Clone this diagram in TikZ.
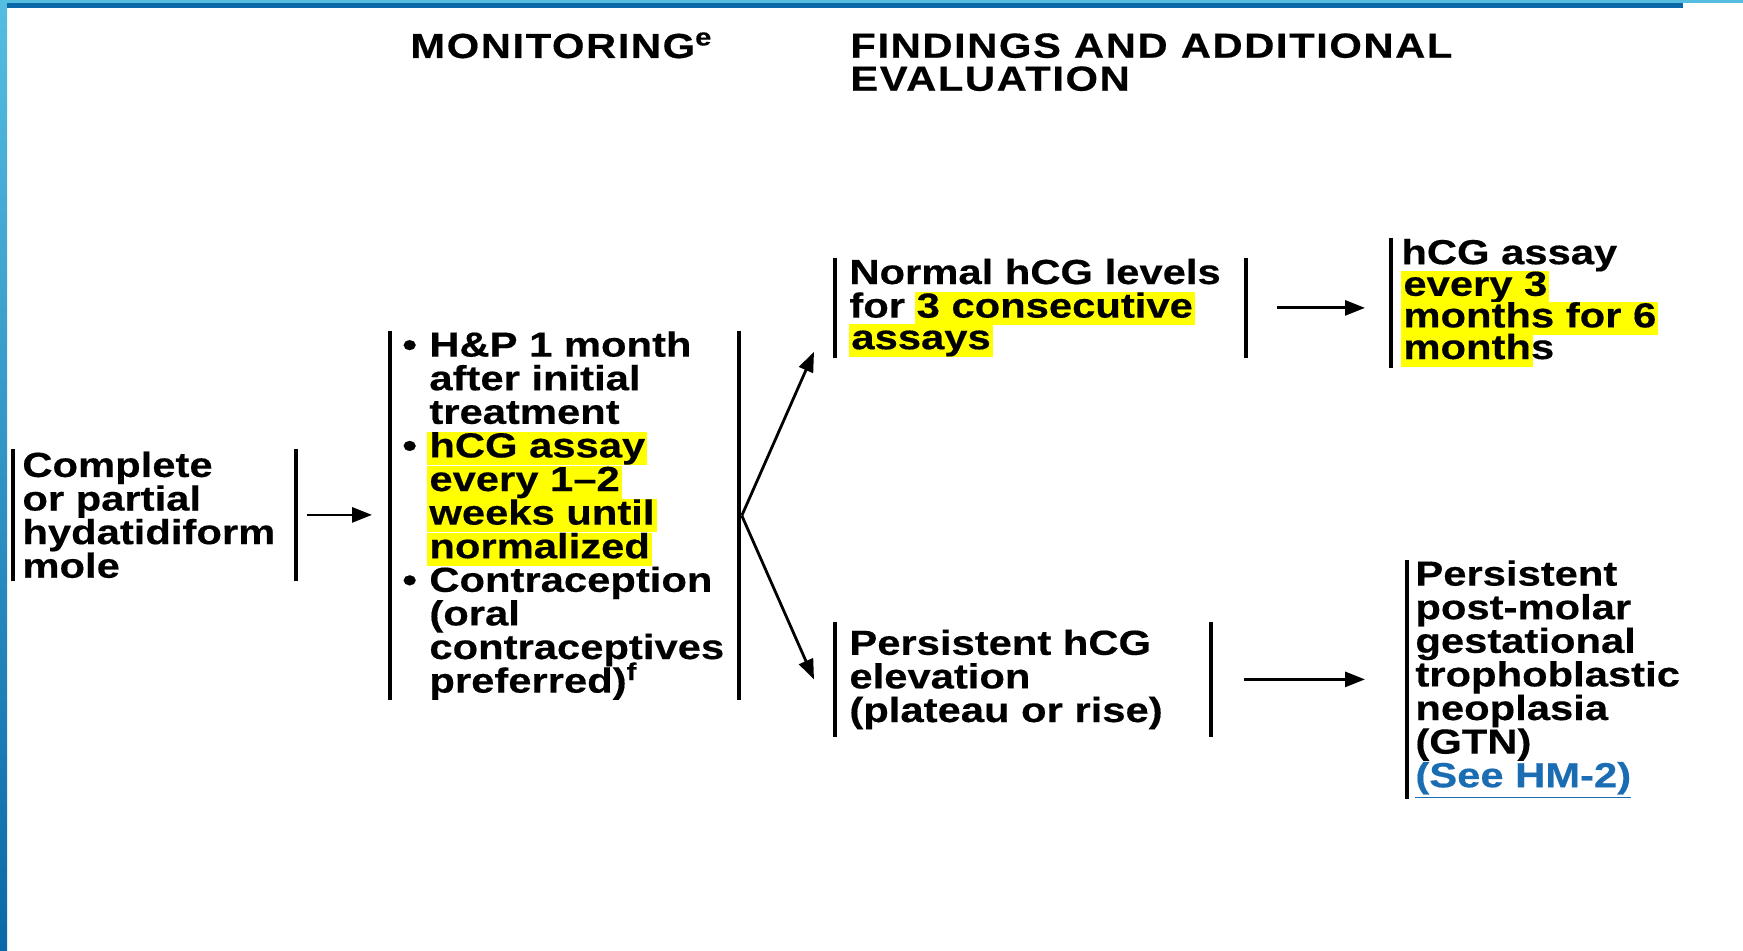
\documentclass[tikz,border=0pt]{standalone}
\usepackage{fontspec}
\setmainfont{Liberation Sans}[FakeStretch=1.2, BoldFeatures={FakeBold=0.4}]
\newfontfamily\headfont{Liberation Sans}[FakeStretch=1.2, LetterSpace=4.5, BoldFeatures={FakeBold=0.4}]
\usetikzlibrary{arrows.meta, positioning, calc}

\definecolor{hlyellow}{HTML}{FFFF00}
\definecolor{linkblue}{HTML}{1A6DB3}
\definecolor{edgelight}{HTML}{55BDE0}
\definecolor{edgedark}{HTML}{0B68A8}

\newcommand{\bodyfont}{\bfseries\fontsize{17.4}{16.8}\selectfont}
\newcommand{\hlt}[1]{\kern-1pt{\setlength{\fboxsep}{0pt}\colorbox{hlyellow}{\rule[-3.9pt]{0pt}{16.5pt}\kern1pt#1\kern1pt}}\kern-1pt}
\newcommand{\bul}{\makebox[13.5pt][l]{\textbullet}}
\newcommand{\ind}{\hspace*{13.5pt}}

\begin{document}
\begin{tikzpicture}[x=0.5pt, y=-0.5pt,
    stage/.style={anchor=north west, inner sep=0pt, align=left, font=\bodyfont},
    bar/.style={line width=1.7pt},
    arr/.style={line width=1.4pt, -{Triangle[length=10pt, width=7.5pt]}},
    head/.style={inner sep=0pt, align=left, font=\headfont\bfseries\fontsize{17.4}{16.5}\selectfont}]
    \useasboundingbox (0,0) rectangle (1743,951);
    % frame
    \fill[white] (0,0) rectangle (1743,951);
    \shade[top color=edgelight, bottom color=edgedark] (0,0) rectangle (7,951);
    \fill[edgelight] (0,0) rectangle (1743,3);
    \fill[edgedark] (7,3) rectangle (1683,8);

    % headings
    \node[head, anchor=base west] (hmon) at (410,58) {MONITORING\textsuperscript{e}};
    \node[head, anchor=north west] (hfind) at (850,33) {FINDINGS AND ADDITIONAL\\EVALUATION};

    % boxes
    \node[stage, text width=136.5pt, minimum height=65.5pt] (mole) at (22,449)
        {Complete\\or partial\\hydatidiform\\mole};
    \node[stage, text width=168pt, minimum height=183pt] (monitor) at (402,331)
        {\bul H\&P 1 month\\\ind after initial\\\ind treatment\\
         \bul\hlt{hCG assay}\\\ind\hlt{every 1--2}\\\ind\hlt{weeks until}\\\ind\hlt{normalized}\\
         \bul Contraception\\\ind (oral\\\ind contraceptives\\\ind preferred)\smash{\textsuperscript{f}}};
    \node[stage, text width=198pt, minimum height=49.5pt] (normal) at (849,258)
        {Normal hCG levels\\for \hlt{3 consecutive}\\\hlt{assays}};
    \node[stage, text width=150pt, minimum height=64.5pt] (assay) at (1401,238)
        {hCG assay\\\hlt{every 3}\\\hlt{months for 6}\\\hlt{month}s};
    \node[stage, text width=180.5pt, minimum height=57pt] (persist) at (849,622)
        {Persistent hCG\\elevation\\(plateau or rise)};
    \node[stage, text width=160pt, minimum height=114pt] (gtn) at (1415,560)
        {Persistent\\post-molar\\gestational\\trophoblastic\\neoplasia\\(GTN)\\
         {\color{linkblue}\underline{(See HM-2)}}};

    % brackets
    \draw[bar] ([xshift=-4.5pt]mole.north west) -- ([xshift=-4.5pt]mole.south west);
    \draw[bar] (mole.north east) -- (mole.south east);
    \draw[bar] ([xshift=-6pt]monitor.north west) -- ([xshift=-6pt]monitor.south west);
    \draw[bar] (monitor.north east) -- (monitor.south east);
    \draw[bar] ([xshift=-7pt]normal.north west) -- ([xshift=-7pt]normal.south west);
    \draw[bar] (normal.north east) -- (normal.south east);
    \draw[bar] ([xshift=-5pt]assay.north west) -- ([xshift=-5pt]assay.south west);
    \draw[bar] ([xshift=-7pt]persist.north west) -- ([xshift=-7pt]persist.south west);
    \draw[bar] (persist.north east) -- (persist.south east);
    \draw[bar] ([xshift=-4pt]gtn.north west) -- ([xshift=-4pt]gtn.south west);

    % arrows
    \draw[arr] ([xshift=5.5pt]mole.east) -- ([xshift=-15pt]mole.east -| monitor.west);
    \draw[arr] ([xshift=1.5pt]monitor.east) -- ([xshift=-17.5pt, yshift=3pt]normal.south west);
    \draw[arr] ([xshift=1.5pt]monitor.east) -- ([xshift=-17.5pt]persist.west);
    \draw[arr] ([xshift=15.5pt]normal.east) -- ([xshift=-18pt]normal.east -| assay.west);
    \draw[arr] ([xshift=16.5pt]persist.east) -- ([xshift=-25pt]persist.east -| gtn.west);
\end{tikzpicture}
\end{document}
